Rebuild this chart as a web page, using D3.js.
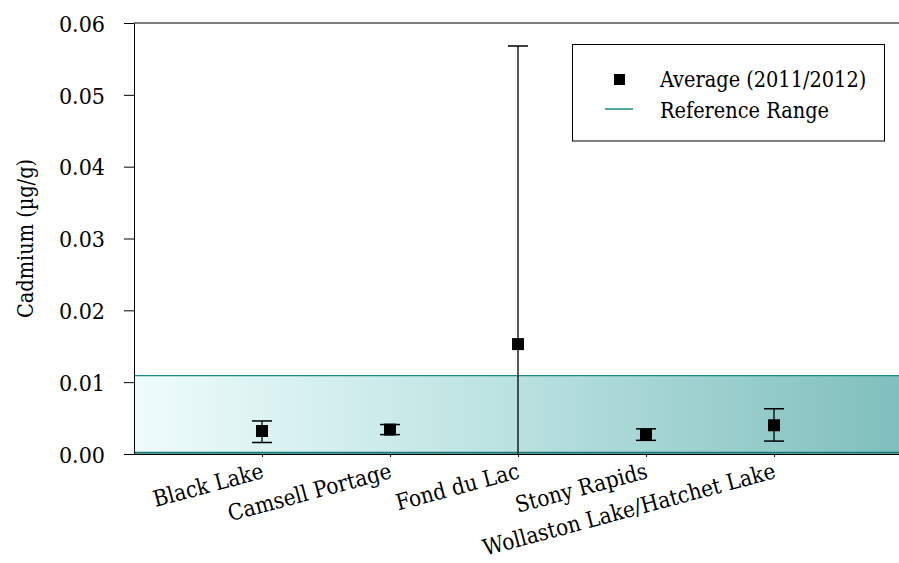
<!DOCTYPE html>
<html>
<head>
<meta charset="utf-8">
<script src="https://cdn.jsdelivr.net/npm/d3@7"></script>
<style>
  html, body { margin: 0; padding: 0; background: #fff; }
  svg text { font-family: "DejaVu Serif Condensed", "DejaVu Serif", serif; font-stretch: condensed; }
</style>
</head>
<body>
<svg id="chart" width="899" height="563"></svg>
<script>
// Cadmium concentrations by community (µg/g)
const sites = ["Black Lake", "Camsell Portage", "Fond du Lac", "Stony Rapids", "Wollaston Lake/Hatchet Lake"];
const average = [0.0032, 0.0034, 0.0153, 0.0027, 0.0040];
const upper   = [0.0046, 0.0041, 0.0568, 0.0035, 0.0063];
const lower   = [0.0016, 0.0027, -0.0262, 0.0019, 0.0018];
const refRange = [0.0001, 0.0109];
const yTicks = [0, 0.01, 0.02, 0.03, 0.04, 0.05, 0.06];

const svg = d3.select("#chart");
const margin = { left: 134, top: 23, bottom: 454 };
const plotRight = 902;

const x = d3.scaleLinear().domain([0, sites.length + 1]).range([margin.left, plotRight]);
const y = d3.scaleLinear().domain([0, 0.06]).range([margin.bottom, margin.top]);

const defs = svg.append("defs");
const grad = defs.append("linearGradient").attr("id", "refGrad")
  .attr("x1", "0%").attr("x2", "100%").attr("y1", "0%").attr("y2", "0%");
grad.append("stop").attr("offset", "0%").attr("stop-color", "#effcfc");
grad.append("stop").attr("offset", "50%").attr("stop-color", "#b9e1e0");
grad.append("stop").attr("offset", "100%").attr("stop-color", "#7fbfbd");

defs.append("clipPath").attr("id", "plotClip").append("rect")
  .attr("x", margin.left).attr("y", margin.top - 2)
  .attr("width", plotRight - margin.left).attr("height", margin.bottom - margin.top + 2);

// Reference range band
svg.append("rect")
  .attr("x", margin.left).attr("y", y(refRange[1]))
  .attr("width", plotRight - margin.left).attr("height", y(refRange[0]) - y(refRange[1]))
  .attr("fill", "url(#refGrad)");
svg.append("line")
  .attr("x1", margin.left).attr("x2", plotRight)
  .attr("y1", y(refRange[1])).attr("y2", y(refRange[1]))
  .attr("stroke", "#1a8a85").attr("stroke-width", 1.3);
svg.append("line")
  .attr("x1", margin.left).attr("x2", plotRight)
  .attr("y1", y(refRange[0]) - 0.5).attr("y2", y(refRange[0]) - 0.5)
  .attr("stroke", "#1a7a75").attr("stroke-width", 2);

// Top frame line
svg.append("line")
  .attr("x1", margin.left).attr("x2", plotRight)
  .attr("y1", margin.top).attr("y2", margin.top)
  .attr("stroke", "#000").attr("stroke-width", 1);

// Y axis
const yAxis = d3.axisLeft(y).tickValues(yTicks).tickFormat(d3.format(".2f")).tickSize(10).tickSizeOuter(0);
const gy = svg.append("g").attr("transform", `translate(${margin.left},0)`).call(yAxis);
gy.attr("font-family", null);
gy.select(".domain").attr("stroke", "#000");
gy.selectAll(".tick line").attr("stroke", "#000");
gy.selectAll(".tick text").attr("font-size", 23)
  .attr("fill", "#000").attr("x", -29).attr("dy", "0.36em");

// X axis
const xAxis = d3.axisBottom(x).tickValues(d3.range(1, sites.length + 1)).tickSize(3).tickSizeOuter(0)
  .tickFormat(i => sites[i - 1]);
const gx = svg.append("g").attr("transform", `translate(0,${margin.bottom})`).call(xAxis);
gx.attr("font-family", null);
gx.select(".domain").attr("stroke", "#000");
gx.selectAll(".tick line").attr("stroke", "#000");
gx.selectAll(".tick text")
  .attr("font-size", 22.5).attr("fill", "#000")
  .attr("text-anchor", "end").attr("dy", 0).attr("y", 23.5).attr("x", -4)
  .attr("transform", "rotate(-15)");

// Y axis title
svg.append("text")
  .attr("transform", `translate(33,${(margin.top + margin.bottom) / 2}) rotate(-90)`)
  .attr("text-anchor", "middle").attr("font-size", 21.5).attr("fill", "#000")
  .text("Cadmium (µg/g)");

// Error bars and averages
const pts = svg.append("g").attr("clip-path", "url(#plotClip)");
const data = sites.map((s, i) => ({ s, i, avg: average[i], hi: upper[i], lo: lower[i] }));
pts.selectAll(".err").data(data).join("line")
  .attr("x1", d => x(d.i + 1)).attr("x2", d => x(d.i + 1))
  .attr("y1", d => y(d.hi)).attr("y2", d => y(d.lo))
  .attr("stroke", "#000").attr("stroke-width", 1.3);
const capW = 10;
["hi", "lo"].forEach(k => {
  pts.selectAll(".cap-" + k).data(data.filter(d => d[k] >= 0)).join("line")
    .attr("x1", d => x(d.i + 1) - capW).attr("x2", d => x(d.i + 1) + capW)
    .attr("y1", d => y(d[k])).attr("y2", d => y(d[k]))
    .attr("stroke", "#000").attr("stroke-width", 1.5);
});
const sq = 12;
pts.selectAll(".avg").data(data).join("rect")
  .attr("x", d => x(d.i + 1) - sq / 2).attr("y", d => y(d.avg) - sq / 2)
  .attr("width", sq).attr("height", sq).attr("fill", "#000");

// Legend
const lg = svg.append("g");
lg.append("rect").attr("x", 572.5).attr("y", 44.5).attr("width", 312).attr("height", 96.5)
  .attr("fill", "#fff").attr("stroke", "#000").attr("stroke-width", 1);
lg.append("rect").attr("x", 614).attr("y", 74).attr("width", 11).attr("height", 11).attr("fill", "#000");
lg.append("text").attr("x", 660).attr("y", 87).attr("font-size", 21.5).attr("fill", "#000")
  .text("Average (2011/2012)");
lg.append("line").attr("x1", 605).attr("x2", 633).attr("y1", 109).attr("y2", 109)
  .attr("stroke", "#1a8a85").attr("stroke-width", 1.5);
lg.append("text").attr("x", 660).attr("y", 118).attr("font-size", 21.5).attr("fill", "#000")
  .text("Reference Range");
</script>
</body>
</html>
